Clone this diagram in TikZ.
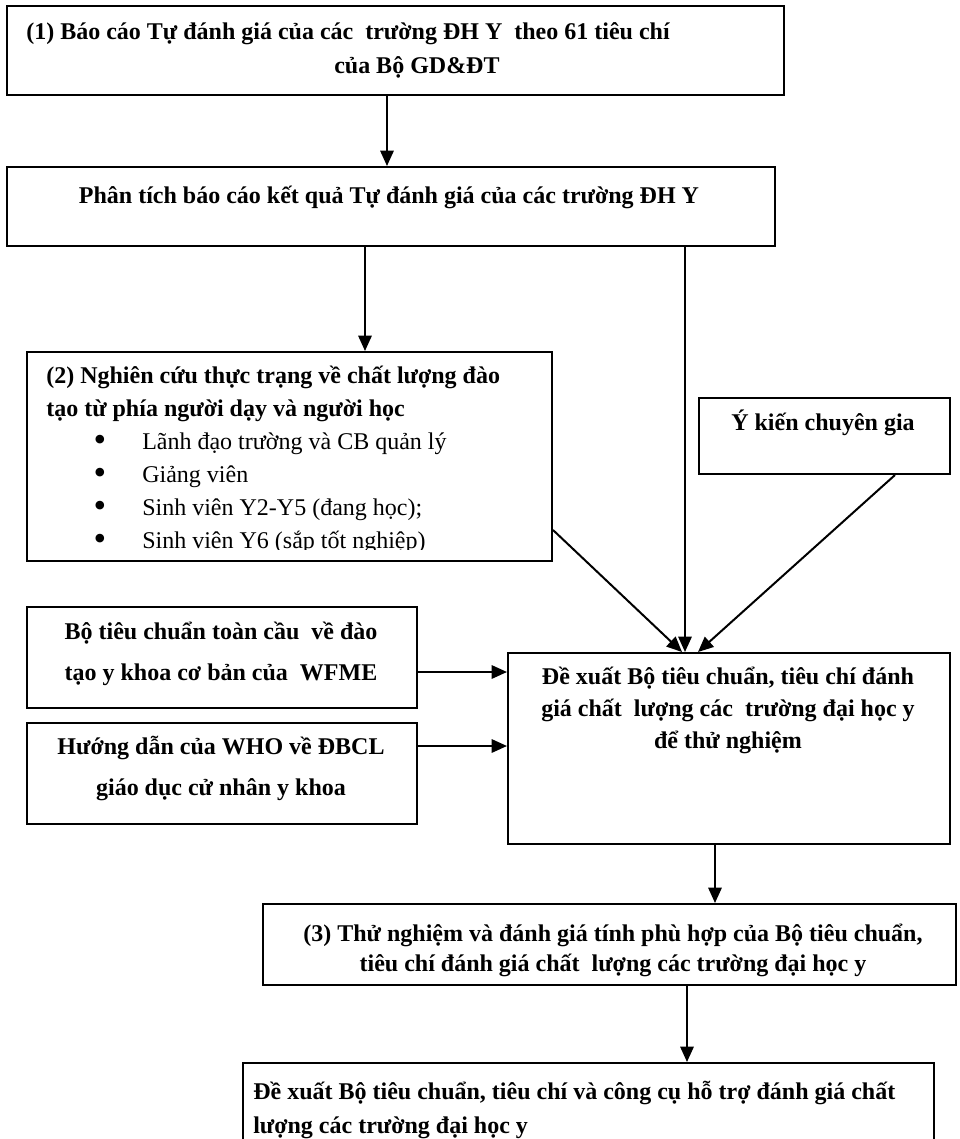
\documentclass[tikz,border=0pt]{standalone}
\usepackage{fontspec}
\setmainfont{Liberation Serif}
\usetikzlibrary{arrows.meta}
\newdimen\px \px=0.75pt
\tikzset{
  box/.style={draw,line width=1.5pt,inner sep=0pt,anchor=north west},
  txt/.style={inner sep=0pt,font=\bfseries\fontsize{18}{#1}\selectfont},
  txt/.default=25.5pt,
  link/.style={->,line width=1.5pt},
  >={Triangle[length=11.5pt,width=10pt]}
}
\newcommand{\itm}[1]{\hspace*{35.5pt}{\mdseries\makebox[36.5pt][l]{\raisebox{-2pt}{\fontsize{27}{27}\selectfont\textbullet}}#1}}

\begin{document}
\begin{tikzpicture}[x=0.75pt,y=-0.75pt]
  
    \clip (0,0) rectangle (960,1139);
    
    % boxes
    \node[box,minimum width=777\px,minimum height=89\px] (report) at (6,5) {};
    \node[box,minimum width=768\px,minimum height=79\px] (analysis) at (6,166) {};
    \node[box,minimum width=525\px,minimum height=209\px] (research) at (26,351) {};
    \node[box,minimum width=251\px,minimum height=76\px] (expert) at (698,397) {};
    \node[box,minimum width=390\px,minimum height=101\px] (wfme) at (26,606) {};
    \node[box,minimum width=390\px,minimum height=101\px] (who) at (26,722) {};
    \node[box,minimum width=442\px,minimum height=191\px] (propose) at (507,652) {};
    \node[box,minimum width=693\px,minimum height=81\px] (test) at (262,903) {};
    \node[box,minimum width=691\px,minimum height=120\px] (final) at (242,1062) {};
    
    % texts
    \node[txt,anchor=west,align=left] (reporttext) at (26,50)
      {(1) Báo cáo Tự đánh giá của các\ \ trường ĐH Y\ \ theo 61 tiêu chí\\
       \hspace*{231pt}của Bộ GD\&ĐT};
    \node[txt] (analysistext) at (389,197)
      {Phân tích báo cáo kết quả Tự đánh giá của các trường ĐH Y};
    \begin{scope}
      \clip (26,351) rectangle (551,549); % last line is cut off
      \node[txt=24.75pt,anchor=west,align=left] (researchtext) at (46,459.5)
        {(2) Nghiên cứu thực trạng về chất lượng đào\\
         tạo từ phía người dạy và người học\\
         \itm{Lãnh đạo trường và CB quản lý}\\
         \itm{Giảng viên}\\
         \itm{Sinh viên Y2-Y5 (đang học);}\\
         \itm{Sinh viên Y6 (sắp tốt nghiệp)}};
    \end{scope}
    \node[txt] (experttext) at (823,423) {Ý kiến chuyên gia};
    \node[txt=30.75pt,align=center] (wfmetext) at (221,653.5)
      {Bộ tiêu chuẩn toàn cầu\ \ về đào\\tạo y khoa cơ bản của\ \ WFME};
    \node[txt=30.75pt,align=center] (whotext) at (221,768.5)
      {Hướng dẫn của WHO về ĐBCL\\giáo dục cử nhân y khoa};
    \node[txt=24pt,align=center] (proposetext) at (728,710)
      {Đề xuất Bộ tiêu chuẩn, tiêu chí đánh\\
       giá chất\ \ lượng các\ \ trường đại học y\\để thử nghiệm};
    \node[txt=22.5pt,align=center] (testtext) at (613,950)
      {(3) Thử nghiệm và đánh giá tính phù hợp của Bộ tiêu chuẩn,\\
       tiêu chí đánh giá chất\ \ lượng các trường đại học y};
    \node[txt,anchor=west,align=left] (finaltext) at (253,1110)
      {Đề xuất Bộ tiêu chuẩn, tiêu chí và công cụ hỗ trợ đánh giá chất\\
       lượng các trường đại học y};
    
    % arrows
    \draw[link] (report.south -| 387,0) -- (analysis.north -| 387,0);
    \draw[link] (analysis.south -| 365,0) -- (research.north -| 365,0);
    \draw[link] (analysis.south -| 685,0) -- (propose.north -| 685,0);
    \draw[link] (research.east |- 0,530) -- (propose.north -| 682,0);
    \draw[link] (expert.south -| 895,0) -- (propose.north -| 698,0);
    \draw[link] (wfme.east |- 0,672) -- (propose.west |- 0,672);
    \draw[link] (who.east |- 0,746) -- (propose.west |- 0,746);
    \draw[link] (propose.south -| 715,0) -- (test.north -| 715,0);
    \draw[link] (test.south -| 687,0) -- (final.north -| 687,0);
    
  \end{tikzpicture}
\end{document}
